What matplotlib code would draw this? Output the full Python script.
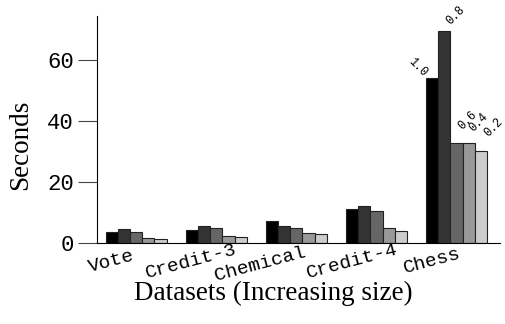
import numpy as np
import matplotlib.pyplot as plt

# run time (s) per dataset, one series per sampling fraction
datasets = ['Vote', 'Credit-3', 'Chemical  ', 'Credit-4', 'Chess']
fractions = ['1.0', '0.8', '0.6', '0.4', '0.2']
seconds = {
    '1.0': [3.8, 4.5, 7.2, 11.1, 54.0],
    '0.8': [4.6, 5.6, 5.6, 12.1, 69.5],
    '0.6': [3.8, 4.9, 5.1, 10.5, 32.9],
    '0.4': [1.6, 2.3, 3.4, 4.9, 32.8],
    '0.2': [1.4, 2.0, 2.95, 4.1, 30.3],
}
colors = ['#000000', '#333333', '#666666', '#999999', '#cccccc']

# where the fraction labels sit relative to the Chess bar tops (pixels)
label_offsets = [(-14, 11), (11, 15), (11, 22), (10, 21), (13, 23)]
label_rot = [-45, 45, 45, 45, 45]

fig = plt.figure(figsize=(5.06, 3.24), dpi=100)
ax = fig.add_axes([0.1917, 0.249, 0.796, 0.702])

x = np.arange(len(datasets))
width = 0.152
for i, f in enumerate(fractions):
    pos = x + (i - 2) * width
    ax.bar(pos, seconds[f], width, color=colors[i], edgecolor='#222222', linewidth=0.8)
    ax.annotate(f, (pos[-1], seconds[f][-1]), xytext=label_offsets[i],
                textcoords='offset pixels', ha='center', va='center',
                rotation=label_rot[i], family='Liberation Mono', fontsize=8.5)

ax.set_xlim(-0.49, 4.54)
ax.set_ylim(0, 74.4)
ax.set_yticks([0, 20, 40, 60])
# labels sit a little left of the group centres
ax.set_xticks(x - 0.31)
ax.set_xticklabels(datasets, rotation=15, family='Liberation Mono', fontsize=14,
                   va='center', ha='center')

ax.tick_params(axis='x', length=0, pad=13)
ax.tick_params(axis='y', length=13.5, width=0.8, pad=3, labelsize=16, color='#444444')
for lab in ax.get_yticklabels():
    lab.set_family('Liberation Mono')

for s in ['top', 'right']:
    ax.spines[s].set_visible(False)

ax.set_ylabel('Seconds', family='Liberation Serif', fontsize=19.5)
ax.set_xlabel('Datasets (Increasing size)', family='Liberation Serif', fontsize=19.5)
ax.yaxis.set_label_coords(-0.158, 0.432)
ax.xaxis.set_label_coords(0.437, -0.165)

fig.savefig('out.png', dpi=100)
